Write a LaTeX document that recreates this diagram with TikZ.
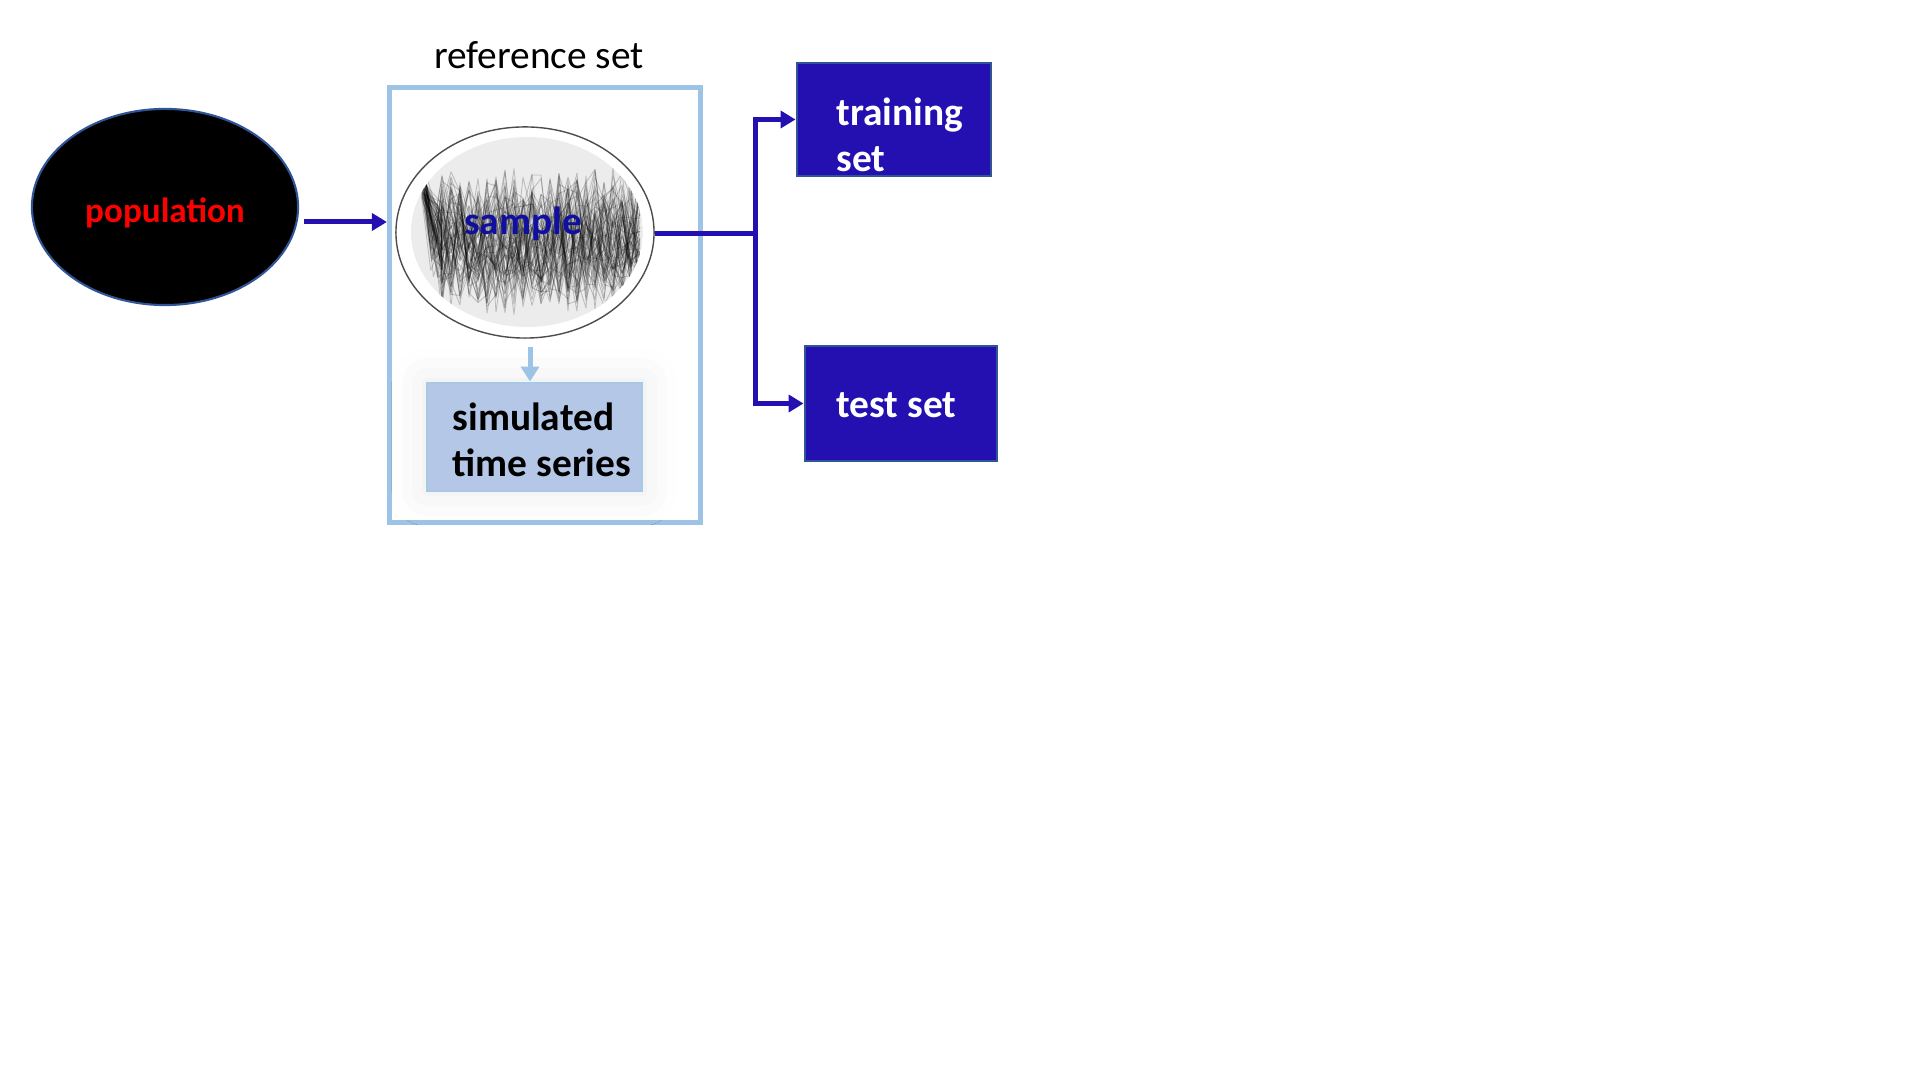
\documentclass[tikz,border=0pt]{standalone}
\usepackage{fontspec}
\setmainfont{Carlito}
\usetikzlibrary{arrows.meta,shapes.geometric,shadows.blur}

\definecolor{flowblue}{HTML}{2410B0}
\definecolor{boxedge}{HTML}{2F5597}
\definecolor{refedge}{HTML}{9DC3E6}
\definecolor{simfill}{HTML}{B4C7E7}
\definecolor{sampleblue}{HTML}{1010A0}
\definecolor{plotgray}{HTML}{ECECEC}

\tikzset{
  boldtext/.style={font=\fontsize{11.2}{13.1}\selectfont\bfseries, inner sep=0pt},
  popnode/.style={ellipse, fill=black, draw=boxedge, line width=0.6pt,
    minimum width=2.66cm, minimum height=1.96cm},
  refnode/.style={rectangle, draw=refedge, line width=1.42pt,
    minimum width=3.105cm, minimum height=4.345cm},
  samplenode/.style={ellipse, draw=black!70, line width=0.4pt,
    minimum width=2.58cm, minimum height=2.11cm},
  simnode/.style={rectangle, fill=simfill, draw=refedge!90!white, line width=0.8pt,
    minimum width=2.15cm, minimum height=1.08cm,
    blur shadow={shadow xshift=0pt, shadow yshift=0pt, shadow blur radius=0.35cm, shadow opacity=9}},
  setnode/.style={rectangle, fill=flowblue, draw=boxedge, line width=0.8pt},
  flowarrow/.style={draw=flowblue, line width=1.42pt, -{Triangle[length=0.15cm,width=0.17cm]}},
  flowline/.style={draw=flowblue, line width=1.42pt},
  simarrow/.style={draw=refedge, line width=1.42pt, -{Triangle[length=0.15cm,width=0.18cm]}},
  series/.style={draw=black, opacity=0.2, line width=0.25pt, line join=round}
}

\begin{document}
\begin{tikzpicture}[x=0.01cm,y=-0.01cm]
  \useasboundingbox (0,0) rectangle (1920,1080);

  % population
  \node[popnode] (pop) at (165,207) {};
  \node[boldtext, text=red, font=\fontsize{10}{12}\selectfont\bfseries] (poplbl) at ([yshift=-0.06cm]pop.center) {population};

  % reference set frame
  \node[refnode] (refbox) at (544.75,304.75) {};
  \node[font=\fontsize{11.2}{13}\selectfont] (reflbl) at (539,55) {reference set};

  % sample: plot of the time series inside the ellipse
  \begin{scope}
    \clip (527,232) ellipse [x radius=116, y radius=95];
    \fill[plotgray] (527,232) ellipse [x radius=116, y radius=95];
    \pgfmathsetseed{11}
    \foreach \k in {1,...,65}{
      \draw[series] ({424+3*rand},{186+12*rand}) -- ({436+6*rand},{240+40*rand})
        \foreach \i in {2,...,24}{ -- ({424+\i*9},{240+52*rand+25*rand}) };
    }
    \foreach \k in {1,...,8}{
      \draw[series] ({426+2*rand},{188+10*rand}) -- ({432+3*rand},{220+20*rand}) -- ({442+4*rand},{255+20*rand});
    }
  \end{scope}
  \node[samplenode] (sample) at (525,232.5) {};
  \node[boldtext, text=sampleblue] (samplelbl) at ([xshift=-0.02cm,yshift=0.09cm]sample.center) {sample};

  % simulated time series
  \node[simnode] (sim) at (534.5,437) {};
  \node[boldtext, align=left, anchor=west] (simlbl) at (452,440) {simulated\\time series};

  % training and test sets
  \node[setnode, minimum width=1.94cm, minimum height=1.13cm] (train) at (894,119.5) {};
  \node[boldtext, text=white, align=left, anchor=west] (trainlbl) at (836,134.5) {training\\set};
  \node[setnode, minimum width=1.92cm, minimum height=1.15cm] (test) at (901,403.5) {};
  \node[boldtext, text=white, anchor=west] (testlbl) at (836,405) {test set};

  % connectors
  \coordinate (popout) at (304,222);
  \draw[flowarrow] (popout) -- (popout -| refbox.west);
  \draw[simarrow] ([xshift=0.05cm,yshift=-0.08cm]sample.south) -- ([xshift=0.05cm]sample.south |- sim.north);
  \coordinate (split) at (755,233.5);
  \draw[flowline] (sample.east |- split) -- (split);
  \draw[flowarrow] (split) |- (train.west);
  \draw[flowarrow] (split) |- (test.west);
\end{tikzpicture}
\end{document}
